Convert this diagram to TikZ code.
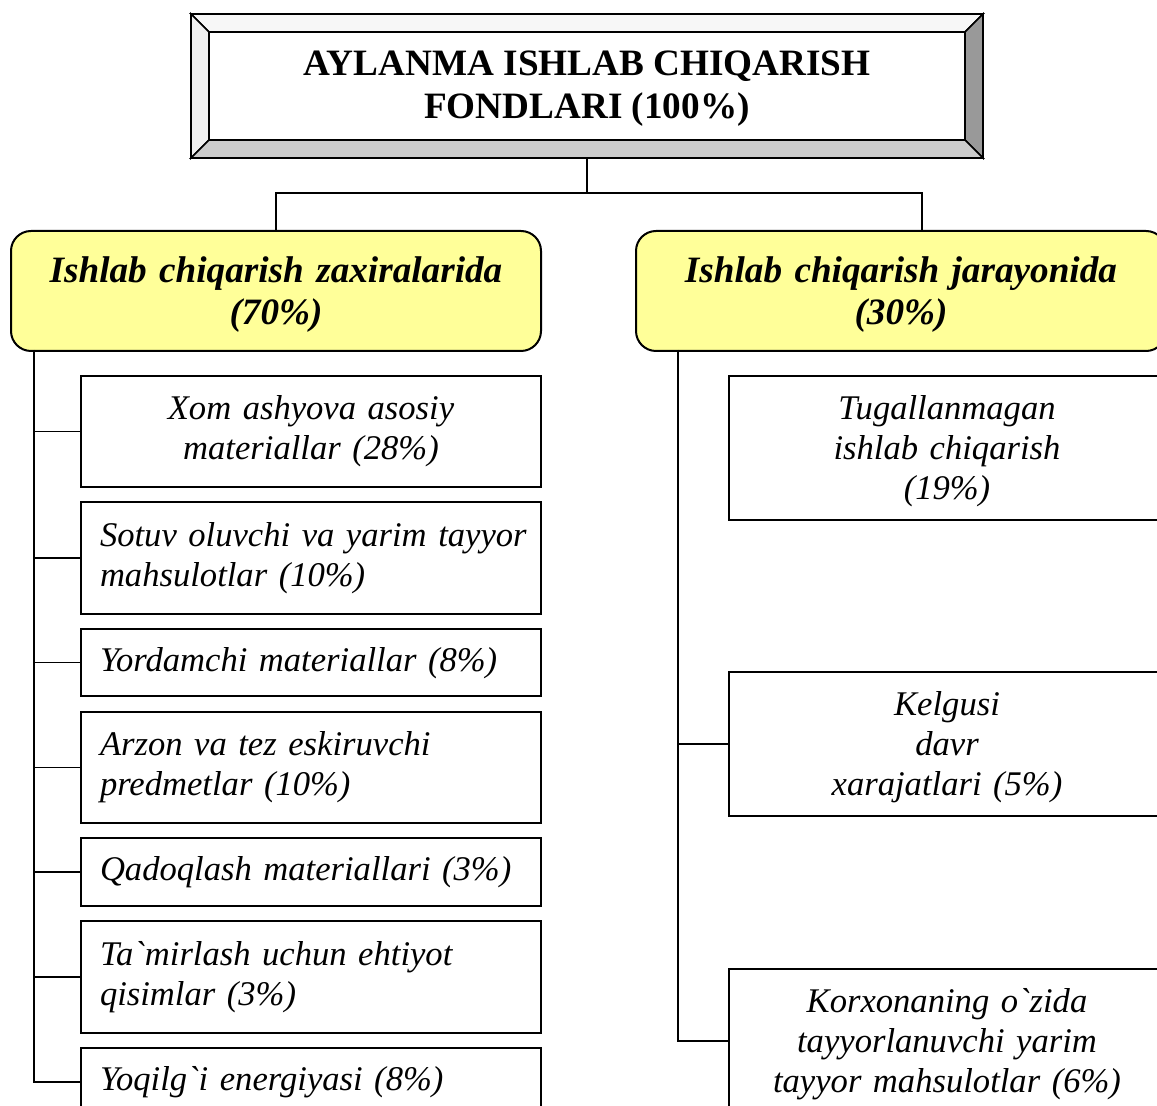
\documentclass[tikz,border=0pt]{standalone}
\usepackage{fontspec}
\setmainfont{Liberation Serif}
\definecolor{headyellow}{HTML}{FFFF99}
\newcommand{\gr}{\textasciigrave}
\begin{document}
\begin{tikzpicture}[x=0.5pt,y=-0.5pt,
  box/.style={draw, line width=1pt, fill=white, anchor=north west, inner xsep=9.5pt, inner ysep=0pt,
    font=\fontsize{17.3}{20}\selectfont\itshape},
  lbox/.style={box, text width=211pt, align=left},
  rbox/.style={box, inner xsep=10.5pt, text width=197pt, align=center, minimum height=72pt},
  head/.style={draw, line width=1pt, fill=headyellow, rounded corners=10pt, anchor=north west,
    minimum height=60pt, inner xsep=5pt, text width=255pt, align=center,
    font=\fontsize{18.6}{21}\selectfont\bfseries\itshape},
  conn/.style={line width=0.9pt}]
\useasboundingbox (0,0) rectangle (1157,1106);
\fill[white] (0,0) rectangle (1157,1106);
\clip (0,0) rectangle (1157,1106);

% bevel of the title frame
\filldraw[line width=0.8pt, fill=white!97!black] (191,14) -- (983,14) -- (965,32) -- (209,32) -- cycle;
\filldraw[line width=0.8pt, fill=white!94!black] (191,14) -- (209,32) -- (209,140) -- (191,158) -- cycle;
\filldraw[line width=0.8pt, fill=black!40] (983,14) -- (983,158) -- (965,140) -- (965,32) -- cycle;
\filldraw[line width=0.8pt, fill=black!20] (191,158) -- (209,140) -- (965,140) -- (983,158) -- cycle;
\node[draw, line width=1pt, minimum width=396pt, minimum height=72pt,
  font=\fontsize{18.6}{21.5}\selectfont\bfseries, align=center] (title) at (587,86)
  {\rule{0pt}{14.5pt}AYLANMA ISHLAB CHIQARISH\\FONDLARI (100\%)};

% headings
\node[head] (lhead) at (10,230) {\rule{0pt}{16.7pt}Ishlab chiqarish zaxiralarida\\(70\%)};
\node[head] (rhead) at (635,230) {\rule{0pt}{16.7pt}Ishlab chiqarish jarayonida\\(30\%)};

\coordinate (jn) at (587,193);
\draw[conn] (title.south) -- (jn);
\draw[conn] (lhead.north) |- (jn) -| ([xshift=143.5pt]rhead.north west);

% left column
\node[lbox, align=center, minimum height=55.5pt] (l1) at (80,375) {Xom ashyova asosiy\\materiallar (28\%)};
\node[lbox, minimum height=56pt] (l2) at (80,501) {\mbox{Sotuv oluvchi va yarim tayyor}\\mahsulotlar (10\%)};
\node[lbox, minimum height=33.5pt] (l3) at (80,628) {\rule{0pt}{13pt}Yordamchi materiallar (8\%)};
\node[lbox, minimum height=55.5pt] (l4) at (80,711) {Arzon va tez eskiruvchi\\predmetlar (10\%)};
\node[lbox, minimum height=34pt] (l5) at (80,837) {Qadoqlash materiallari (3\%)};
\node[lbox, minimum height=56pt] (l6) at (80,920) {Ta\gr mirlash uchun ehtiyot\\qisimlar (3\%)};
\node[lbox, minimum height=34pt] (l7) at (80,1047) {Yoqilg\gr i energiyasi (8\%)};

\coordinate (ltr) at (34,350);
\draw[conn] (ltr) |- (l7.west);
\foreach \i in {1,...,6} {\draw[conn] (l\i.west) -- (l\i.west -| ltr);}

% right column
\node[rbox] (r1) at (728,375) {\rule{0pt}{14.8pt}Tugallanmagan\\ishlab chiqarish\\(19\%)};
\node[rbox] (r2) at (728,671) {\rule{0pt}{14.8pt}Kelgusi\\davr\\xarajatlari (5\%)};
\node[rbox] (r3) at (728,968) {\rule{0pt}{14.8pt}Korxonaning o\gr zida\\tayyorlanuvchi yarim\\tayyor mahsulotlar (6\%)};

\coordinate (rtr) at (678,350);
\draw[conn] (rtr) |- (r3.west);
\draw[conn] (r2.west) -- (r2.west -| rtr);
\end{tikzpicture}
\end{document}
